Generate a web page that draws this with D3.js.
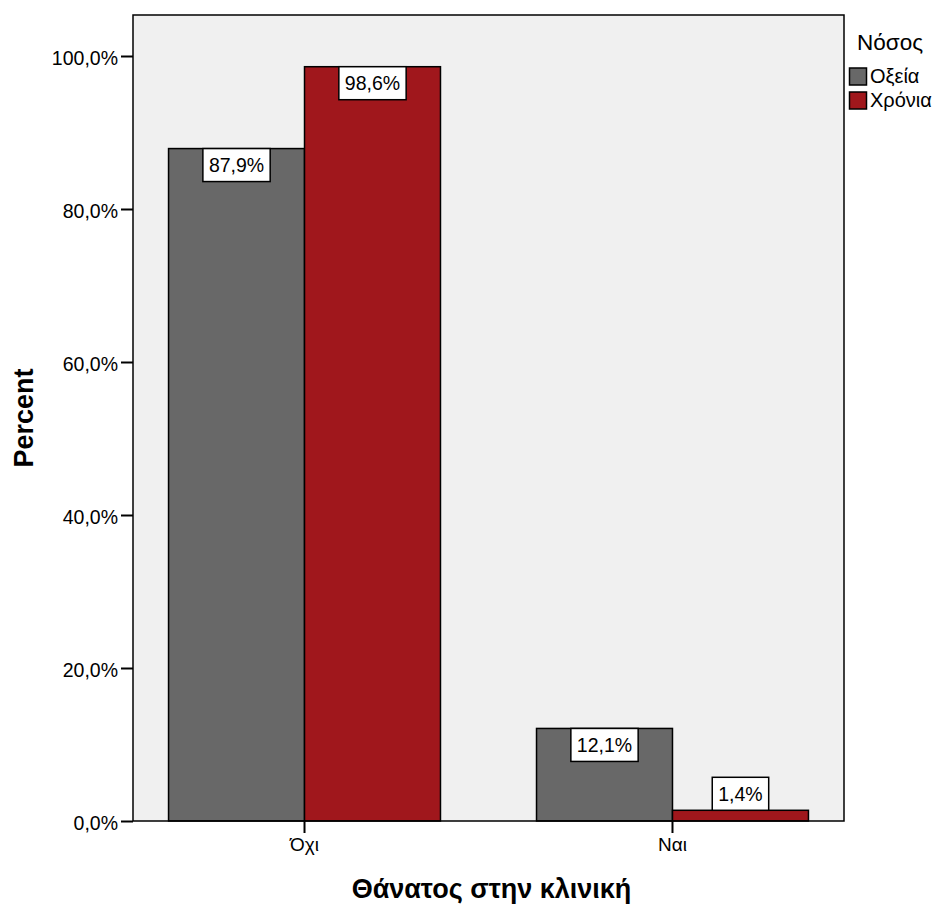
<!DOCTYPE html>
<html>
<head>
<meta charset="utf-8">
<script src="https://cdn.jsdelivr.net/npm/d3@7"></script>
<style>
  html, body { margin: 0; padding: 0; background: #fff; }
  svg { display: block; font-family: Arial, "Liberation Sans", sans-serif; }
</style>
</head>
<body>
<svg id="chart" width="936" height="904"></svg>
<script>
// Categories on the x axis and the two disease groups
const categories = ["Όχι", "Ναι"];
const seriesNames = ["Οξεία", "Χρόνια"];
// Percent values per category, one array per series
const acuteValues = [87.9, 12.1];
const chronicValues = [98.6, 1.4];
const yTicks = [0, 20, 40, 60, 80, 100];
const colors = ["#686868", "#a0171c"];

const svg = d3.select("#chart");
const plot = { left: 133, right: 844, top: 15, bottom: 821 };

const x0 = d3.scaleBand()
  .domain(categories)
  .range([plot.left, plot.right])
  .paddingInner(0.261)
  .paddingOuter(0.0966);

const x1 = d3.scaleBand()
  .domain(seriesNames)
  .range([0, x0.bandwidth()]);

const y = d3.scaleLinear()
  .domain([0, 100])
  .range([plot.bottom, 56]);

const fmt = v => d3.format(".1f")(v).replace(".", ",") + "%";

// plot background
svg.append("rect")
  .attr("x", plot.left).attr("y", plot.top)
  .attr("width", plot.right - plot.left)
  .attr("height", plot.bottom - plot.top)
  .attr("fill", "#f0f0f0");

const series = [acuteValues, chronicValues];
const rows = [];
categories.forEach((c, i) => {
  seriesNames.forEach((s, j) => {
    rows.push({ cat: c, ser: s, value: series[j][i], color: colors[j] });
  });
});

// bars
svg.append("g").selectAll("rect")
  .data(rows)
  .join("rect")
  .attr("x", d => x0(d.cat) + x1(d.ser))
  .attr("y", d => y(d.value))
  .attr("width", x1.bandwidth())
  .attr("height", d => y(0) - y(d.value))
  .attr("fill", d => d.color)
  .attr("stroke", "#000")
  .attr("stroke-width", 1.5);

// plot frame
svg.append("rect")
  .attr("x", plot.left).attr("y", plot.top)
  .attr("width", plot.right - plot.left)
  .attr("height", plot.bottom - plot.top)
  .attr("fill", "none")
  .attr("stroke", "#000")
  .attr("stroke-width", 1.5);

// value labels in white boxes
const labels = svg.append("g").selectAll("g")
  .data(rows)
  .join("g");

labels.each(function (d) {
  const g = d3.select(this);
  const cx = x0(d.cat) + x1(d.ser) + x1.bandwidth() / 2;
  const text = g.append("text")
    .attr("x", cx)
    .attr("text-anchor", "middle")
    .attr("font-size", 19.5)
    .attr("fill", "#000")
    .text(fmt(d.value));
  const w = text.node().getComputedTextLength() + 12;
  const h = 33;
  const barTop = y(d.value);
  // box hangs inside the bar when there is room, otherwise sits above it
  const boxTop = (y(0) - barTop) > h + 2 ? barTop : barTop - h;
  g.insert("rect", "text")
    .attr("x", cx - w / 2)
    .attr("y", boxTop)
    .attr("width", w)
    .attr("height", h)
    .attr("fill", "#fff")
    .attr("stroke", "#000")
    .attr("stroke-width", 1.5);
  text.attr("y", boxTop + h / 2 + 7);
});

// y axis
const yAxis = svg.append("g")
  .attr("transform", `translate(${plot.left},0)`)
  .call(d3.axisLeft(y).tickValues(yTicks).tickSize(12).tickPadding(3).tickFormat(fmt));
yAxis.select(".domain").remove();
yAxis.selectAll(".tick line").attr("stroke", "#000").attr("stroke-width", 2);
yAxis.selectAll(".tick text")
  .attr("font-size", 19.5)
  .attr("font-family", "Arial, 'Liberation Sans', sans-serif")
  .attr("fill", "#000")
  .attr("dy", "0.45em");

// x axis
const xAxis = svg.append("g")
  .attr("transform", `translate(0,${plot.bottom})`)
  .call(d3.axisBottom(x0).tickSize(12).tickPadding(5));
xAxis.select(".domain").remove();
xAxis.selectAll(".tick line").attr("stroke", "#000").attr("stroke-width", 2);
xAxis.selectAll(".tick text")
  .attr("font-size", 19)
  .attr("font-family", "Arial, 'Liberation Sans', sans-serif")
  .attr("fill", "#000");

// axis titles
svg.append("text")
  .attr("transform", `translate(33,${(plot.top + plot.bottom) / 2}) rotate(-90)`)
  .attr("text-anchor", "middle")
  .attr("font-size", 27)
  .attr("font-weight", "bold")
  .text("Percent");

svg.append("text")
  .attr("x", (plot.left + plot.right) / 2 + 3)
  .attr("y", 898)
  .attr("text-anchor", "middle")
  .attr("font-size", 27)
  .attr("font-weight", "bold")
  .text("Θάνατος στην κλινική");

// legend
const legend = svg.append("g");
legend.append("text")
  .attr("x", 857).attr("y", 50)
  .attr("font-size", 22.5)
  .text("Νόσος");
seriesNames.forEach((s, j) => {
  const yy = 68 + j * 24;
  legend.append("rect")
    .attr("x", 849.5).attr("y", yy)
    .attr("width", 17).attr("height", 17)
    .attr("fill", colors[j])
    .attr("stroke", "#000")
    .attr("stroke-width", 1.5);
  legend.append("text")
    .attr("x", 870).attr("y", yy + 15)
    .attr("font-size", 20)
    .text(s);
});
</script>
</body>
</html>
